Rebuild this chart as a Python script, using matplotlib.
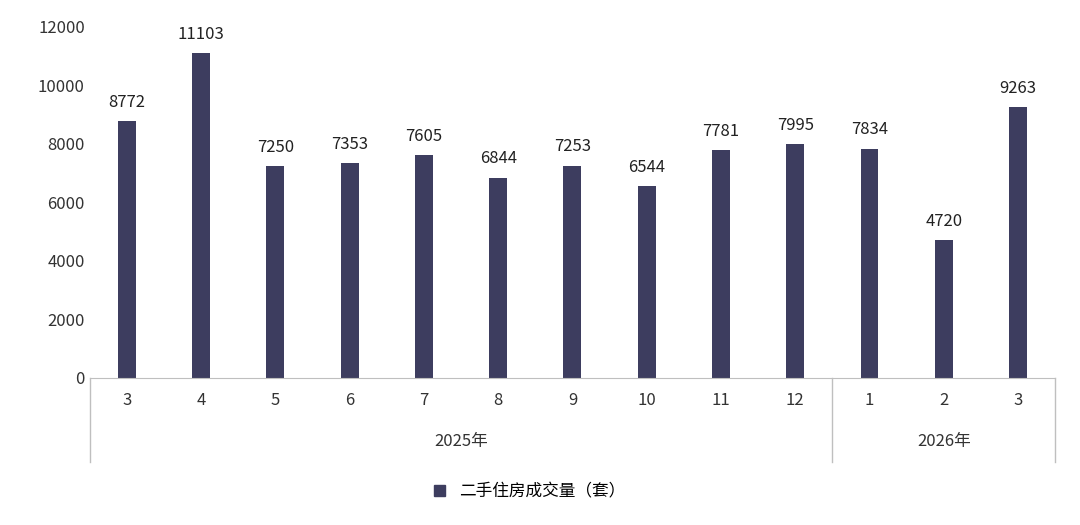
import matplotlib
matplotlib.use('Agg')
import matplotlib.pyplot as plt
import matplotlib.transforms as mtransforms
from matplotlib.patches import Patch

plt.rcParams['font.family'] = ['Noto Sans CJK SC', 'DejaVu Sans']

months = ['3', '4', '5', '6', '7', '8', '9', '10', '11', '12', '1', '2', '3']
values = [8772, 11103, 7250, 7353, 7605, 6844, 7253, 6544, 7781, 7995, 7834, 4720, 9263]
groups = ['2025年', '2026年']
group_sizes = [10, 3]
series_name = '二手住房成交量（套）'
bar_color = '#3d3d5f'

fig = plt.figure(figsize=(10.8, 5.25), dpi=100)
ax = fig.add_axes([0.083, 0.28, 0.894, 0.669])
x = list(range(len(values)))
ax.bar(x, values, width=0.24, color=bar_color)
for xi, v in zip(x, values):
    ax.text(xi, v + 350, str(v), ha='center', va='bottom', fontsize=12, color='#222222')

ax.set_xlim(-0.5, len(values) - 0.5)
ax.set_ylim(0, 12000)
ax.set_yticks(range(0, 12001, 2000))
ax.tick_params(axis='y', length=0, labelsize=12, colors='#333333')
ax.set_xticks(x)
ax.set_xticklabels(months, fontsize=12, color='#333333')
ax.tick_params(axis='x', length=0, pad=10)
for s in ['top', 'right', 'left']:
    ax.spines[s].set_visible(False)
ax.spines['bottom'].set_color('#bfbfbf')

trans = mtransforms.blended_transform_factory(ax.transData, ax.transAxes)
start = -0.5
bounds = [start]
for g, n in zip(groups, group_sizes):
    end = start + n
    ax.text((start + end) / 2, -0.18, g, transform=trans, ha='center', va='center',
            fontsize=12, color='#333333')
    bounds.append(end)
    start = end
for b in bounds:
    ax.plot([b, b], [0, -0.24], transform=trans, color='#bfbfbf', lw=1, clip_on=False)

fig.legend(handles=[Patch(color=bar_color, label=series_name)], loc='center',
           bbox_to_anchor=(0.49, 0.063), frameon=False, fontsize=12,
           handlelength=0.7, handleheight=0.7)

fig.savefig('out.png', dpi=100)
